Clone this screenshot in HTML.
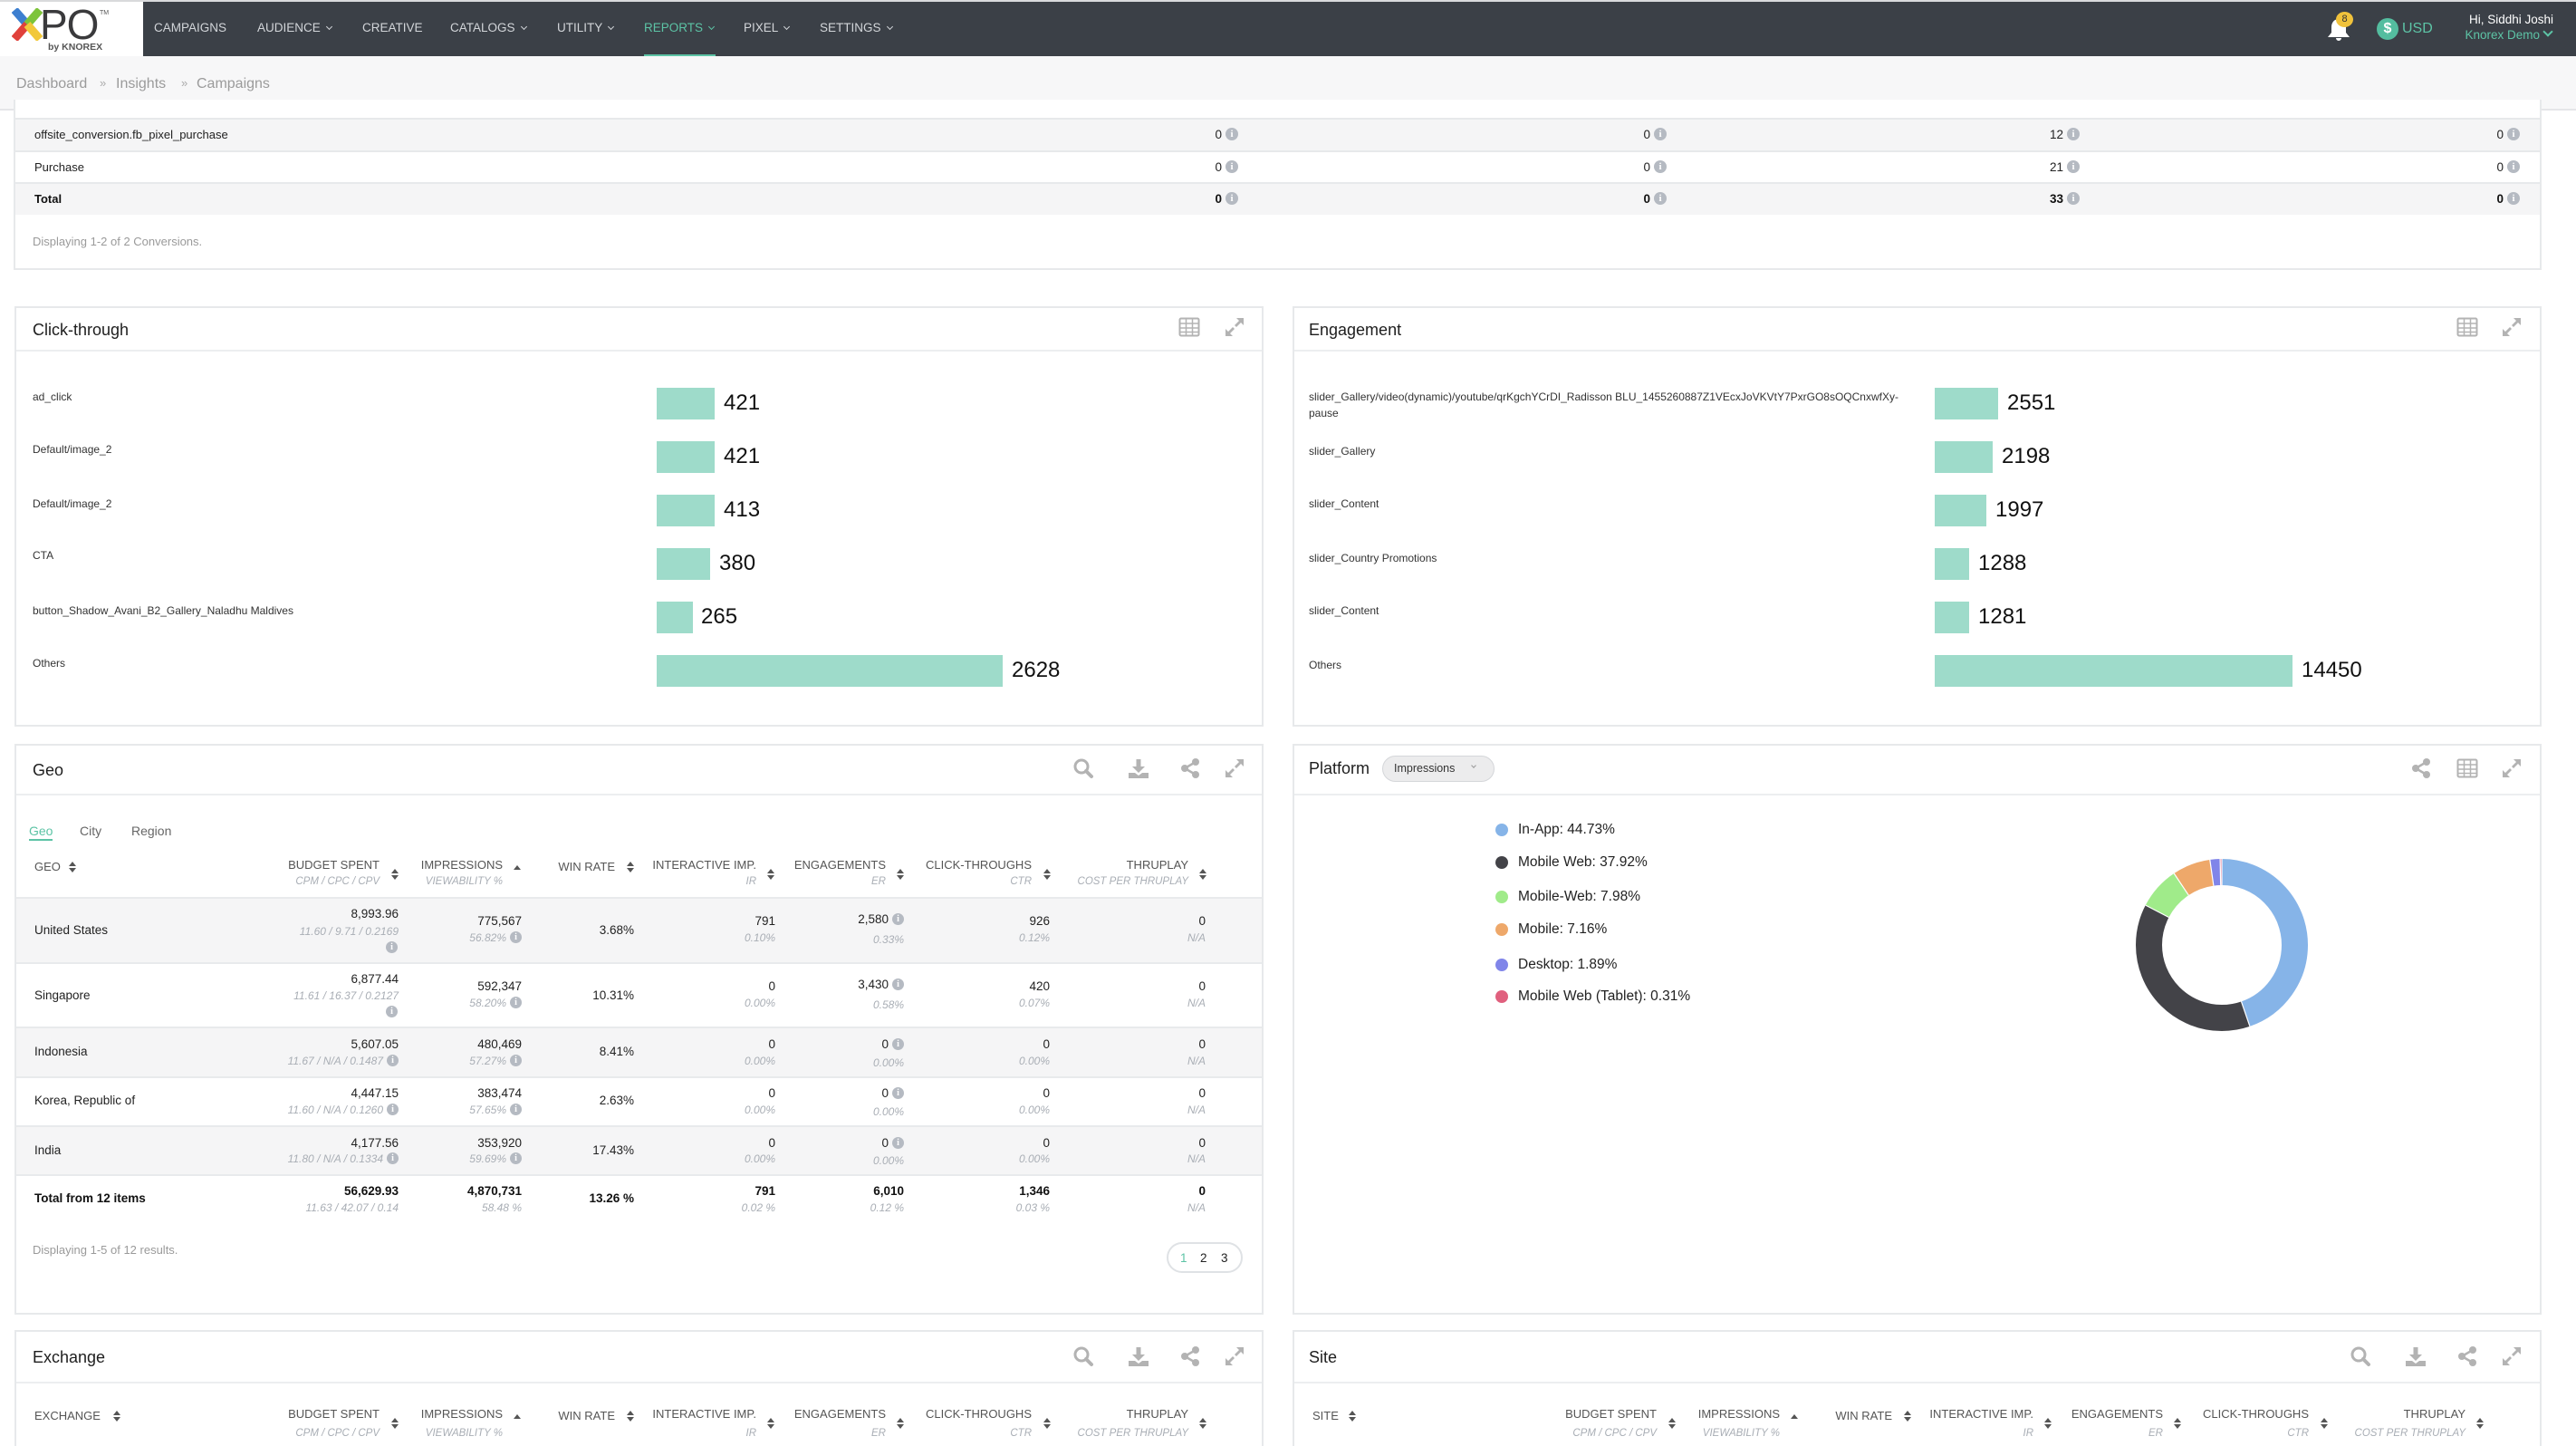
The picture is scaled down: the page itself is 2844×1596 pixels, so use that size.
<!DOCTYPE html>
<html><head><meta charset="utf-8">
<style>
html,body{margin:0;padding:0;width:2844px;height:1596px;overflow:hidden;background:#fff}
#p{position:relative;width:2844px;height:1596px;font-family:"Liberation Sans",Arial,sans-serif;color:#222;overflow:hidden}
.a{position:absolute;white-space:nowrap;line-height:20px;height:20px}
.b{position:absolute}
.nav{font-size:13.5px;color:#d2d5d9;top:21px}
.cv{display:inline-block;width:4px;height:4px;border-right:1.5px solid currentColor;border-bottom:1.5px solid currentColor;transform:rotate(45deg);margin-left:7px;position:relative;top:-3px}
.panel{position:absolute;border:2px solid #e7e9eb;box-sizing:border-box;background:#fff}
.hl{position:absolute;height:2px;background:#eceef0}
.ttl{font-size:18px;color:#1e1e1e}
.lbl{font-size:12px;color:#333}
.bar{position:absolute;background:#9edbca;height:35px}
.val{font-size:24px;color:#111;line-height:30px;height:30px}
.th{font-size:13px;color:#555}
.sub{font-size:11.5px;color:#a9aeb5;font-style:italic}
.td{font-size:13.5px;color:#222}
.tb{font-size:13.5px;color:#111;font-weight:bold}
.tds{font-size:12px;color:#a9aeb5;font-style:italic}
.i{display:inline-block;width:13px;height:13px;border-radius:50%;background:#b5bac2;color:#fff;font:bold 10px/13px "Liberation Serif",serif;text-align:center;vertical-align:middle;margin-left:4px;position:relative;top:-1px;font-style:normal}
.i2{display:inline-block;width:14px;height:14px;border-radius:50%;background:#b5bac2;color:#fff;font:bold 11px/14px "Liberation Serif",serif;text-align:center;vertical-align:middle;margin-left:4px;position:relative;top:-1px}
.row{position:absolute;left:18px;width:1375px;background:#f5f5f6}
.sep{position:absolute;left:18px;width:1375px;height:2px;background:#e8eaec}
.ic{position:absolute;width:24px;height:24px}
.ic *{fill:#b3b3b3;stroke:#b3b3b3}
.st{position:absolute;width:8px;height:12px}
.st path{fill:#555}
.dot{position:absolute;width:14px;height:14px;border-radius:50%}
.leg{font-size:15.5px;color:#222}
</style></head>
<body><div id="p">

<!-- top strip + navbar -->
<div class="b" style="left:0;top:0;width:2844px;height:2px;background:#d9dadc"></div>
<div class="b" style="left:0;top:2px;width:2844px;height:60px;background:#3b4047"></div>
<div class="b" style="left:0;top:2px;width:158px;height:60px;background:#fff"></div>
<svg class="b" style="left:13px;top:9px" width="34" height="36" viewBox="0 0 34 36">
  <path d="M3 2 L17 18" stroke="#3d7fd0" stroke-width="9" fill="none"/>
  <path d="M31 2 L17 18" stroke="#7dc43a" stroke-width="9" fill="none"/>
  <path d="M3 34 L17 18" stroke="#e0413b" stroke-width="9" fill="none"/>
  <path d="M31 34 L17 18" stroke="#f2c83a" stroke-width="9" fill="none"/>
</svg>
<div class="a" style="left:44px;top:2px;height:50px;line-height:50px;font-size:46px;color:#3a3a3c;letter-spacing:-1px">PO</div>
<div class="a" style="left:110px;top:5px;font-size:7px;color:#555">TM</div>
<div class="a" style="left:53px;top:42px;font-size:10.5px;font-weight:bold;color:#555">by KNOREX</div>

<div class="a nav" style="left:170px">CAMPAIGNS</div>
<div class="a nav" style="left:284px">AUDIENCE<i class="cv"></i></div>
<div class="a nav" style="left:400px">CREATIVE</div>
<div class="a nav" style="left:497px">CATALOGS<i class="cv"></i></div>
<div class="a nav" style="left:615px">UTILITY<i class="cv"></i></div>
<div class="a nav" style="left:711px;color:#5cc3a5">REPORTS<i class="cv"></i></div>
<div class="a nav" style="left:821px">PIXEL<i class="cv"></i></div>
<div class="a nav" style="left:905px">SETTINGS<i class="cv"></i></div>
<div class="b" style="left:711px;top:60px;width:79px;height:4px;background:#5cc3a5"></div>

<svg class="b" style="left:2568px;top:18px" width="28" height="28" viewBox="0 0 28 28">
  <path d="M14 3c-5 0-8 4-8 9v6l-4 5h24l-4-5v-6c0-5-3-9-8-9z M11 24a3 3 0 0 0 6 0z" fill="#fff"/>
</svg>
<div class="b" style="left:2579px;top:13px;width:19px;height:17px;border-radius:50%;background:#f0c23b;color:#333;font-size:11px;line-height:17px;text-align:center">8</div>
<div class="b" style="left:2624px;top:20px;width:24px;height:24px;border-radius:50%;background:#54bd9f;color:#fff;font-size:16px;font-weight:bold;line-height:24px;text-align:center">$</div>
<div class="a" style="left:2652px;top:22px;font-size:16px;color:#5dc4a6">USD</div>
<div class="a" style="right:25px;top:12px;font-size:13.5px;color:#fff">Hi, Siddhi Joshi</div>
<div class="a" style="right:40px;top:29px;font-size:13.5px;color:#5dc4a6">Knorex Demo</div>
<div class="b" style="left:2809px;top:31px;width:6px;height:6px;border-right:2.5px solid #5dc4a6;border-bottom:2.5px solid #5dc4a6;transform:rotate(45deg)"></div>

<!-- breadcrumb -->
<div class="b" style="left:0;top:62px;width:2844px;height:58px;background:#f7f7f8"></div>
<div class="b" style="left:0;top:120px;width:2844px;height:2px;background:#e5e6e8"></div>
<div class="a" style="left:18px;top:83px;font-size:16px;color:#9b9b9b">Dashboard</div>
<div class="a" style="left:110px;top:82px;font-size:13px;color:#aaa">»</div>
<div class="a" style="left:128px;top:83px;font-size:16px;color:#9b9b9b">Insights</div>
<div class="a" style="left:200px;top:82px;font-size:13px;color:#aaa">»</div>
<div class="a" style="left:217px;top:83px;font-size:16px;color:#9b9b9b">Campaigns</div>

<!-- conversions panel -->
<div class="panel" style="left:15px;top:110px;width:2791px;height:188px;border-top:none"></div>
<div class="b" style="left:17px;top:130px;width:2787px;height:2px;background:#e7e9eb"></div>
<div class="b" style="left:17px;top:132px;width:2787px;height:34px;background:#f5f5f6"></div>
<div class="b" style="left:17px;top:166px;width:2787px;height:2px;background:#e7e9eb"></div>
<div class="b" style="left:17px;top:201px;width:2787px;height:2px;background:#e7e9eb"></div>
<div class="b" style="left:17px;top:203px;width:2787px;height:34px;background:#f5f5f6"></div>
<div class="a td" style="left:38px;top:139px;font-size:13px">offsite_conversion.fb_pixel_purchase</div>
<div class="a td" style="left:38px;top:175px;font-size:13px">Purchase</div>
<div class="a tb" style="left:38px;top:210px;font-size:13px">Total</div>

<div class="a td" style="right:1477px;top:139px">0<span class="i2">i</span></div>
<div class="a td" style="right:1004px;top:139px">0<span class="i2">i</span></div>
<div class="a td" style="right:548px;top:139px">12<span class="i2">i</span></div>
<div class="a td" style="right:62px;top:139px">0<span class="i2">i</span></div>
<div class="a td" style="right:1477px;top:175px">0<span class="i2">i</span></div>
<div class="a td" style="right:1004px;top:175px">0<span class="i2">i</span></div>
<div class="a td" style="right:548px;top:175px">21<span class="i2">i</span></div>
<div class="a td" style="right:62px;top:175px">0<span class="i2">i</span></div>
<div class="a tb" style="right:1477px;top:210px">0<span class="i2">i</span></div>
<div class="a tb" style="right:1004px;top:210px">0<span class="i2">i</span></div>
<div class="a tb" style="right:548px;top:210px">33<span class="i2">i</span></div>
<div class="a tb" style="right:62px;top:210px">0<span class="i2">i</span></div>
<div class="a" style="left:36px;top:257px;font-size:13px;color:#9a9a9a">Displaying 1-2 of 2 Conversions.</div>

<!-- Click-through panel -->
<div class="panel" style="left:16px;top:338px;width:1379px;height:464px"></div>
<div class="hl" style="left:18px;top:386px;width:1375px"></div>
<div class="a ttl" style="left:36px;top:354px">Click-through</div>
<svg class="ic" style="left:1301px;top:349px" viewBox="0 0 24 24"><rect x="1.5" y="2.5" width="21" height="19" rx="1.5" fill="none" stroke-width="2" style="fill:none"/><path d="M1.5 8h21M1.5 13h21M1.5 17.5h21M8.5 3v18M15.5 3v18" stroke-width="1.5" style="fill:none"/></svg>
<svg class="ic" style="left:1351px;top:349px" viewBox="0 0 24 24"><path d="M14 2h8v8l-3-3-5 5-2-2 5-5z M10 22H2v-8l3 3 5-5 2 2-5 5z" style="stroke:none"/></svg>

<div class="a lbl" style="left:36px;top:428px">ad_click</div>
<div class="a lbl" style="left:36px;top:486px">Default/image_2</div>
<div class="a lbl" style="left:36px;top:546px">Default/image_2</div>
<div class="a lbl" style="left:36px;top:603px">CTA</div>
<div class="a lbl" style="left:36px;top:664px">button_Shadow_Avani_B2_Gallery_Naladhu Maldives</div>
<div class="a lbl" style="left:36px;top:722px">Others</div>
<div class="bar" style="left:725px;top:428px;width:64px"></div>
<div class="bar" style="left:725px;top:487px;width:64px"></div>
<div class="bar" style="left:725px;top:546px;width:64px"></div>
<div class="bar" style="left:725px;top:605px;width:59px"></div>
<div class="bar" style="left:725px;top:664px;width:40px"></div>
<div class="bar" style="left:725px;top:723px;width:382px"></div>
<div class="a val" style="left:799px;top:430px">421</div>
<div class="a val" style="left:799px;top:489px">421</div>
<div class="a val" style="left:799px;top:548px">413</div>
<div class="a val" style="left:794px;top:607px">380</div>
<div class="a val" style="left:774px;top:666px">265</div>
<div class="a val" style="left:1117px;top:725px">2628</div>

<!-- Engagement panel -->
<div class="panel" style="left:1427px;top:338px;width:1379px;height:464px"></div>
<div class="hl" style="left:1429px;top:386px;width:1375px"></div>
<div class="a ttl" style="left:1445px;top:354px">Engagement</div>
<svg class="ic" style="left:2712px;top:349px" viewBox="0 0 24 24"><rect x="1.5" y="2.5" width="21" height="19" rx="1.5" fill="none" stroke-width="2" style="fill:none"/><path d="M1.5 8h21M1.5 13h21M1.5 17.5h21M8.5 3v18M15.5 3v18" stroke-width="1.5" style="fill:none"/></svg>
<svg class="ic" style="left:2761px;top:349px" viewBox="0 0 24 24"><path d="M14 2h8v8l-3-3-5 5-2-2 5-5z M10 22H2v-8l3 3 5-5 2 2-5 5z" style="stroke:none"/></svg>

<div class="b lbl" style="left:1445px;top:429px;line-height:18px;white-space:nowrap">slider_Gallery/video(dynamic)/youtube/qrKgchYCrDI_Radisson BLU_1455260887Z1VEcxJoVKVtY7PxrGO8sOQCnxwfXy-<br>pause</div>
<div class="a lbl" style="left:1445px;top:488px">slider_Gallery</div>
<div class="a lbl" style="left:1445px;top:546px">slider_Content</div>
<div class="a lbl" style="left:1445px;top:606px">slider_Country Promotions</div>
<div class="a lbl" style="left:1445px;top:664px">slider_Content</div>
<div class="a lbl" style="left:1445px;top:724px">Others</div>
<div class="bar" style="left:2136px;top:428px;width:70px"></div>
<div class="bar" style="left:2136px;top:487px;width:64px"></div>
<div class="bar" style="left:2136px;top:546px;width:57px"></div>
<div class="bar" style="left:2136px;top:605px;width:38px"></div>
<div class="bar" style="left:2136px;top:664px;width:38px"></div>
<div class="bar" style="left:2136px;top:723px;width:395px"></div>
<div class="a val" style="left:2216px;top:430px">2551</div>
<div class="a val" style="left:2210px;top:489px">2198</div>
<div class="a val" style="left:2203px;top:548px">1997</div>
<div class="a val" style="left:2184px;top:607px">1288</div>
<div class="a val" style="left:2184px;top:666px">1281</div>
<div class="a val" style="left:2541px;top:725px">14450</div>

<!-- Geo panel -->
<div class="panel" style="left:16px;top:821px;width:1379px;height:630px"></div>
<div class="hl" style="left:18px;top:876px;width:1375px"></div>
<div class="a ttl" style="left:36px;top:840px">Geo</div>
<svg class="ic" style="left:1184px;top:836px" viewBox="0 0 24 24"><circle cx="10" cy="10" r="7" stroke-width="3" style="fill:none"/><path d="M15 15l6 6" stroke-width="4" stroke-linecap="round"/></svg>
<svg class="ic" style="left:1245px;top:836px" viewBox="0 0 24 24"><path d="M9.5 2h5v8h4.5l-7 7-7-7h4.5z M1 17h7l4 3 4-3h7v6H1z" style="stroke:none"/></svg>
<svg class="ic" style="left:1302px;top:836px" viewBox="0 0 24 24"><circle cx="18" cy="5" r="4" style="stroke:none"/><circle cx="6" cy="12" r="4" style="stroke:none"/><circle cx="18" cy="19" r="4" style="stroke:none"/><path d="M18 5L6 12L18 19" stroke-width="2.5" style="fill:none"/></svg>
<svg class="ic" style="left:1351px;top:836px" viewBox="0 0 24 24"><path d="M14 2h8v8l-3-3-5 5-2-2 5-5z M10 22H2v-8l3 3 5-5 2 2-5 5z" style="stroke:none"/></svg>

<div class="a" style="left:32px;top:907px;font-size:14px;color:#5cc3a5">Geo</div>
<div class="b" style="left:32px;top:926px;width:26px;height:2px;background:#5cc3a5"></div>
<div class="a" style="left:88px;top:907px;font-size:14px;color:#666">City</div>
<div class="a" style="left:145px;top:907px;font-size:14px;color:#666">Region</div>

<div class="a th" style="left:38px;top:947px">GEO</div>
<svg class="st" style="left:76px;top:951px" viewBox="0 0 8 12"><path d="M4 0L8 5H0z M0 7h8L4 12z"/></svg>
<div class="a th" style="right:2425px;top:945px">BUDGET SPENT</div>
<div class="a th" style="right:2289px;top:945px">IMPRESSIONS</div>
<div class="a th" style="right:2165px;top:947px">WIN RATE</div>
<div class="a th" style="right:2009px;top:945px">INTERACTIVE IMP.</div>
<div class="a th" style="right:1866px;top:945px">ENGAGEMENTS</div>
<div class="a th" style="right:1705px;top:945px">CLICK-THROUGHS</div>
<div class="a th" style="right:1532px;top:945px">THRUPLAY</div>
<div class="a sub" style="right:2425px;top:963px">CPM / CPC / CPV</div>
<div class="a sub" style="right:2289px;top:963px">VIEWABILITY %</div>
<div class="a sub" style="right:2009px;top:963px">IR</div>
<div class="a sub" style="right:1866px;top:963px">ER</div>
<div class="a sub" style="right:1705px;top:963px">CTR</div>
<div class="a sub" style="right:1532px;top:963px">COST PER THRUPLAY</div>
<svg class="st" style="left:432px;top:959px" viewBox="0 0 8 12"><path d="M4 0L8 5H0z M0 7h8L4 12z"/></svg>
<svg class="st" style="left:567px;top:955px" viewBox="0 0 8 12"><path d="M4 0L8 5H0z"/></svg>
<svg class="st" style="left:692px;top:951px" viewBox="0 0 8 12"><path d="M4 0L8 5H0z M0 7h8L4 12z"/></svg>
<svg class="st" style="left:847px;top:959px" viewBox="0 0 8 12"><path d="M4 0L8 5H0z M0 7h8L4 12z"/></svg>
<svg class="st" style="left:990px;top:959px" viewBox="0 0 8 12"><path d="M4 0L8 5H0z M0 7h8L4 12z"/></svg>
<svg class="st" style="left:1152px;top:959px" viewBox="0 0 8 12"><path d="M4 0L8 5H0z M0 7h8L4 12z"/></svg>
<svg class="st" style="left:1324px;top:959px" viewBox="0 0 8 12"><path d="M4 0L8 5H0z M0 7h8L4 12z"/></svg>

<div class="sep" style="top:990px"></div>
<div class="row" style="top:992px;height:70px"></div>
<div class="sep" style="top:1062px"></div>
<div class="sep" style="top:1133px"></div>
<div class="row" style="top:1135px;height:53px"></div>
<div class="sep" style="top:1188px"></div>
<div class="sep" style="top:1242px"></div>
<div class="row" style="top:1244px;height:52px"></div>
<div class="sep" style="top:1296px"></div>

<!-- row 1 -->
<div class="a td" style="left:38px;top:1017px">United States</div>
<div class="a td" style="right:2404px;top:999px">8,993.96</div>
<div class="a tds" style="right:2404px;top:1018px">11.60 / 9.71 / 0.2169</div>
<span class="i" style="position:absolute;left:422px;top:1039px">i</span>
<div class="a td" style="right:2268px;top:1007px">775,567</div>
<div class="a tds" style="right:2268px;top:1025px">56.82%<span class="i">i</span></div>
<div class="a td" style="right:2144px;top:1017px">3.68%</div>
<div class="a td" style="right:1988px;top:1007px">791</div>
<div class="a tds" style="right:1988px;top:1025px">0.10%</div>
<div class="a td" style="right:1846px;top:1005px">2,580<span class="i">i</span></div>
<div class="a tds" style="right:1846px;top:1027px">0.33%</div>
<div class="a td" style="right:1685px;top:1007px">926</div>
<div class="a tds" style="right:1685px;top:1025px">0.12%</div>
<div class="a td" style="right:1513px;top:1007px">0</div>
<div class="a tds" style="right:1513px;top:1025px">N/A</div>

<!-- row 2 -->
<div class="a td" style="left:38px;top:1089px">Singapore</div>
<div class="a td" style="right:2404px;top:1071px">6,877.44</div>
<div class="a tds" style="right:2404px;top:1089px">11.61 / 16.37 / 0.2127</div>
<span class="i" style="position:absolute;left:422px;top:1110px">i</span>
<div class="a td" style="right:2268px;top:1079px">592,347</div>
<div class="a tds" style="right:2268px;top:1097px">58.20%<span class="i">i</span></div>
<div class="a td" style="right:2144px;top:1089px">10.31%</div>
<div class="a td" style="right:1988px;top:1079px">0</div>
<div class="a tds" style="right:1988px;top:1097px">0.00%</div>
<div class="a td" style="right:1846px;top:1077px">3,430<span class="i">i</span></div>
<div class="a tds" style="right:1846px;top:1099px">0.58%</div>
<div class="a td" style="right:1685px;top:1079px">420</div>
<div class="a tds" style="right:1685px;top:1097px">0.07%</div>
<div class="a td" style="right:1513px;top:1079px">0</div>
<div class="a tds" style="right:1513px;top:1097px">N/A</div>

<!-- row 3 -->
<div class="a td" style="left:38px;top:1151px">Indonesia</div>
<div class="a td" style="right:2404px;top:1143px">5,607.05</div>
<div class="a tds" style="right:2404px;top:1161px">11.67 / N/A / 0.1487<span class="i">i</span></div>
<div class="a td" style="right:2268px;top:1143px">480,469</div>
<div class="a tds" style="right:2268px;top:1161px">57.27%<span class="i">i</span></div>
<div class="a td" style="right:2144px;top:1151px">8.41%</div>
<div class="a td" style="right:1988px;top:1143px">0</div>
<div class="a tds" style="right:1988px;top:1161px">0.00%</div>
<div class="a td" style="right:1846px;top:1143px">0<span class="i">i</span></div>
<div class="a tds" style="right:1846px;top:1163px">0.00%</div>
<div class="a td" style="right:1685px;top:1143px">0</div>
<div class="a tds" style="right:1685px;top:1161px">0.00%</div>
<div class="a td" style="right:1513px;top:1143px">0</div>
<div class="a tds" style="right:1513px;top:1161px">N/A</div>

<!-- row 4 -->
<div class="a td" style="left:38px;top:1205px">Korea, Republic of</div>
<div class="a td" style="right:2404px;top:1197px">4,447.15</div>
<div class="a tds" style="right:2404px;top:1215px">11.60 / N/A / 0.1260<span class="i">i</span></div>
<div class="a td" style="right:2268px;top:1197px">383,474</div>
<div class="a tds" style="right:2268px;top:1215px">57.65%<span class="i">i</span></div>
<div class="a td" style="right:2144px;top:1205px">2.63%</div>
<div class="a td" style="right:1988px;top:1197px">0</div>
<div class="a tds" style="right:1988px;top:1215px">0.00%</div>
<div class="a td" style="right:1846px;top:1197px">0<span class="i">i</span></div>
<div class="a tds" style="right:1846px;top:1217px">0.00%</div>
<div class="a td" style="right:1685px;top:1197px">0</div>
<div class="a tds" style="right:1685px;top:1215px">0.00%</div>
<div class="a td" style="right:1513px;top:1197px">0</div>
<div class="a tds" style="right:1513px;top:1215px">N/A</div>

<!-- row 5 -->
<div class="a td" style="left:38px;top:1260px">India</div>
<div class="a td" style="right:2404px;top:1252px">4,177.56</div>
<div class="a tds" style="right:2404px;top:1269px">11.80 / N/A / 0.1334<span class="i">i</span></div>
<div class="a td" style="right:2268px;top:1252px">353,920</div>
<div class="a tds" style="right:2268px;top:1269px">59.69%<span class="i">i</span></div>
<div class="a td" style="right:2144px;top:1260px">17.43%</div>
<div class="a td" style="right:1988px;top:1252px">0</div>
<div class="a tds" style="right:1988px;top:1269px">0.00%</div>
<div class="a td" style="right:1846px;top:1252px">0<span class="i">i</span></div>
<div class="a tds" style="right:1846px;top:1271px">0.00%</div>
<div class="a td" style="right:1685px;top:1252px">0</div>
<div class="a tds" style="right:1685px;top:1269px">0.00%</div>
<div class="a td" style="right:1513px;top:1252px">0</div>
<div class="a tds" style="right:1513px;top:1269px">N/A</div>

<!-- total -->
<div class="a tb" style="left:38px;top:1313px">Total from 12 items</div>
<div class="a tb" style="right:2404px;top:1305px">56,629.93</div>
<div class="a tds" style="right:2404px;top:1323px">11.63 / 42.07 / 0.14</div>
<div class="a tb" style="right:2268px;top:1305px">4,870,731</div>
<div class="a tds" style="right:2268px;top:1323px">58.48 %</div>
<div class="a tb" style="right:2144px;top:1313px">13.26 %</div>
<div class="a tb" style="right:1988px;top:1305px">791</div>
<div class="a tds" style="right:1988px;top:1323px">0.02 %</div>
<div class="a tb" style="right:1846px;top:1305px">6,010</div>
<div class="a tds" style="right:1846px;top:1323px">0.12 %</div>
<div class="a tb" style="right:1685px;top:1305px">1,346</div>
<div class="a tds" style="right:1685px;top:1323px">0.03 %</div>
<div class="a tb" style="right:1513px;top:1305px">0</div>
<div class="a tds" style="right:1513px;top:1323px">N/A</div>

<div class="a" style="left:36px;top:1370px;font-size:13px;color:#9a9a9a">Displaying 1-5 of 12 results.</div>
<div class="b" style="left:1288px;top:1371px;width:84px;height:34px;border:2px solid #dfe2e5;border-radius:17px;box-sizing:border-box"></div>
<div class="a td" style="left:1303px;top:1379px;color:#5cc3a5">1</div>
<div class="a td" style="left:1325px;top:1379px">2</div>
<div class="a td" style="left:1348px;top:1379px">3</div>

<!-- Platform panel -->
<div class="panel" style="left:1427px;top:821px;width:1379px;height:630px"></div>
<div class="hl" style="left:1429px;top:876px;width:1375px"></div>
<div class="a ttl" style="left:1445px;top:838px">Platform</div>
<div class="b" style="left:1526px;top:834px;width:124px;height:29px;border:1px solid #d5d7da;border-radius:15px;background:#ececed;box-sizing:border-box"></div>
<div class="a" style="left:1539px;top:838px;font-size:12.5px;color:#333">Impressions</div>
<div class="b" style="left:1625px;top:843px;width:3px;height:3px;border-right:1px solid #999;border-bottom:1px solid #999;transform:rotate(45deg)"></div>
<svg class="ic" style="left:2661px;top:836px" viewBox="0 0 24 24"><circle cx="18" cy="5" r="4" style="stroke:none"/><circle cx="6" cy="12" r="4" style="stroke:none"/><circle cx="18" cy="19" r="4" style="stroke:none"/><path d="M18 5L6 12L18 19" stroke-width="2.5" style="fill:none"/></svg>
<svg class="ic" style="left:2712px;top:836px" viewBox="0 0 24 24"><rect x="1.5" y="2.5" width="21" height="19" rx="1.5" fill="none" stroke-width="2" style="fill:none"/><path d="M1.5 8h21M1.5 13h21M1.5 17.5h21M8.5 3v18M15.5 3v18" stroke-width="1.5" style="fill:none"/></svg>
<svg class="ic" style="left:2761px;top:836px" viewBox="0 0 24 24"><path d="M14 2h8v8l-3-3-5 5-2-2 5-5z M10 22H2v-8l3 3 5-5 2 2-5 5z" style="stroke:none"/></svg>

<div class="dot" style="left:1651px;top:909px;background:#86b4e8"></div>
<div class="dot" style="left:1651px;top:945px;background:#434348"></div>
<div class="dot" style="left:1651px;top:983px;background:#a0eb8a"></div>
<div class="dot" style="left:1651px;top:1019px;background:#eea86a"></div>
<div class="dot" style="left:1651px;top:1058px;background:#8085e9"></div>
<div class="dot" style="left:1651px;top:1093px;background:#e0607e"></div>
<div class="a leg" style="left:1676px;top:906px">In-App: 44.73%</div>
<div class="a leg" style="left:1676px;top:942px">Mobile Web: 37.92%</div>
<div class="a leg" style="left:1676px;top:980px">Mobile-Web: 7.98%</div>
<div class="a leg" style="left:1676px;top:1016px">Mobile: 7.16%</div>
<div class="a leg" style="left:1676px;top:1055px">Desktop: 1.89%</div>
<div class="a leg" style="left:1676px;top:1090px">Mobile Web (Tablet): 0.31%</div>

<svg class="b" style="left:2343px;top:933px" width="220" height="220" viewBox="0 0 220 220">
  <g transform="rotate(-90 110 110)" fill="none" stroke-width="29">
    <circle cx="110" cy="110" r="80.5" stroke="#86b4e8" stroke-dasharray="226.24 600" stroke-dashoffset="0"/>
    <circle cx="110" cy="110" r="80.5" stroke="#434348" stroke-dasharray="191.80 600" stroke-dashoffset="-226.24"/>
    <circle cx="110" cy="110" r="80.5" stroke="#a0eb8a" stroke-dasharray="40.36 600" stroke-dashoffset="-418.04"/>
    <circle cx="110" cy="110" r="80.5" stroke="#eea86a" stroke-dasharray="36.22 600" stroke-dashoffset="-458.40"/>
    <circle cx="110" cy="110" r="80.5" stroke="#8085e9" stroke-dasharray="9.56 600" stroke-dashoffset="-494.62"/>
    <circle cx="110" cy="110" r="80.5" stroke="#e0607e" stroke-dasharray="1.60 600" stroke-dashoffset="-504.18"/>
  </g>
  <g stroke="#fff" stroke-width="1.2">
    <line x1="131.5" y1="172.4" x2="140.9" y2="199.8"/>
    <line x1="51.5" y1="79.5" x2="25.8" y2="66.1"/>
    <line x1="73.3" y1="55.1" x2="57.2" y2="31"/>
    <line x1="100.9" y1="44.6" x2="96.8" y2="15.9"/>
    <line x1="108.7" y1="44" x2="108.1" y2="15"/>
    <line x1="110" y1="44" x2="110" y2="15"/>
  </g>
</svg>

<!-- Exchange panel -->
<div class="panel" style="left:16px;top:1468px;width:1379px;height:200px"></div>
<div class="hl" style="left:18px;top:1525px;width:1375px"></div>
<div class="a ttl" style="left:36px;top:1488px">Exchange</div>
<svg class="ic" style="left:1184px;top:1485px" viewBox="0 0 24 24"><circle cx="10" cy="10" r="7" stroke-width="3" style="fill:none"/><path d="M15 15l6 6" stroke-width="4" stroke-linecap="round"/></svg>
<svg class="ic" style="left:1245px;top:1485px" viewBox="0 0 24 24"><path d="M9.5 2h5v8h4.5l-7 7-7-7h4.5z M1 17h7l4 3 4-3h7v6H1z" style="stroke:none"/></svg>
<svg class="ic" style="left:1302px;top:1485px" viewBox="0 0 24 24"><circle cx="18" cy="5" r="4" style="stroke:none"/><circle cx="6" cy="12" r="4" style="stroke:none"/><circle cx="18" cy="19" r="4" style="stroke:none"/><path d="M18 5L6 12L18 19" stroke-width="2.5" style="fill:none"/></svg>
<svg class="ic" style="left:1351px;top:1485px" viewBox="0 0 24 24"><path d="M14 2h8v8l-3-3-5 5-2-2 5-5z M10 22H2v-8l3 3 5-5 2 2-5 5z" style="stroke:none"/></svg>

<div class="a th" style="left:38px;top:1553px">EXCHANGE</div>
<svg class="st" style="left:125px;top:1557px" viewBox="0 0 8 12"><path d="M4 0L8 5H0z M0 7h8L4 12z"/></svg>
<div class="a th" style="right:2425px;top:1551px">BUDGET SPENT</div>
<div class="a th" style="right:2289px;top:1551px">IMPRESSIONS</div>
<div class="a th" style="right:2165px;top:1553px">WIN RATE</div>
<div class="a th" style="right:2009px;top:1551px">INTERACTIVE IMP.</div>
<div class="a th" style="right:1866px;top:1551px">ENGAGEMENTS</div>
<div class="a th" style="right:1705px;top:1551px">CLICK-THROUGHS</div>
<div class="a th" style="right:1532px;top:1551px">THRUPLAY</div>
<div class="a sub" style="right:2425px;top:1572px">CPM / CPC / CPV</div>
<div class="a sub" style="right:2289px;top:1572px">VIEWABILITY %</div>
<div class="a sub" style="right:2009px;top:1572px">IR</div>
<div class="a sub" style="right:1866px;top:1572px">ER</div>
<div class="a sub" style="right:1705px;top:1572px">CTR</div>
<div class="a sub" style="right:1532px;top:1572px">COST PER THRUPLAY</div>
<svg class="st" style="left:432px;top:1565px" viewBox="0 0 8 12"><path d="M4 0L8 5H0z M0 7h8L4 12z"/></svg>
<svg class="st" style="left:567px;top:1561px" viewBox="0 0 8 12"><path d="M4 0L8 5H0z"/></svg>
<svg class="st" style="left:692px;top:1557px" viewBox="0 0 8 12"><path d="M4 0L8 5H0z M0 7h8L4 12z"/></svg>
<svg class="st" style="left:847px;top:1565px" viewBox="0 0 8 12"><path d="M4 0L8 5H0z M0 7h8L4 12z"/></svg>
<svg class="st" style="left:990px;top:1565px" viewBox="0 0 8 12"><path d="M4 0L8 5H0z M0 7h8L4 12z"/></svg>
<svg class="st" style="left:1152px;top:1565px" viewBox="0 0 8 12"><path d="M4 0L8 5H0z M0 7h8L4 12z"/></svg>
<svg class="st" style="left:1324px;top:1565px" viewBox="0 0 8 12"><path d="M4 0L8 5H0z M0 7h8L4 12z"/></svg>

<!-- Site panel -->
<div class="panel" style="left:1427px;top:1468px;width:1379px;height:200px"></div>
<div class="hl" style="left:1429px;top:1525px;width:1375px"></div>
<div class="a ttl" style="left:1445px;top:1488px">Site</div>
<svg class="ic" style="left:2594px;top:1485px" viewBox="0 0 24 24"><circle cx="10" cy="10" r="7" stroke-width="3" style="fill:none"/><path d="M15 15l6 6" stroke-width="4" stroke-linecap="round"/></svg>
<svg class="ic" style="left:2655px;top:1485px" viewBox="0 0 24 24"><path d="M9.5 2h5v8h4.5l-7 7-7-7h4.5z M1 17h7l4 3 4-3h7v6H1z" style="stroke:none"/></svg>
<svg class="ic" style="left:2712px;top:1485px" viewBox="0 0 24 24"><circle cx="18" cy="5" r="4" style="stroke:none"/><circle cx="6" cy="12" r="4" style="stroke:none"/><circle cx="18" cy="19" r="4" style="stroke:none"/><path d="M18 5L6 12L18 19" stroke-width="2.5" style="fill:none"/></svg>
<svg class="ic" style="left:2761px;top:1485px" viewBox="0 0 24 24"><path d="M14 2h8v8l-3-3-5 5-2-2 5-5z M10 22H2v-8l3 3 5-5 2 2-5 5z" style="stroke:none"/></svg>

<div class="a th" style="left:1449px;top:1553px">SITE</div>
<svg class="st" style="left:1489px;top:1557px" viewBox="0 0 8 12"><path d="M4 0L8 5H0z M0 7h8L4 12z"/></svg>
<div class="a th" style="right:1015px;top:1551px">BUDGET SPENT</div>
<div class="a th" style="right:879px;top:1551px">IMPRESSIONS</div>
<div class="a th" style="right:755px;top:1553px">WIN RATE</div>
<div class="a th" style="right:599px;top:1551px">INTERACTIVE IMP.</div>
<div class="a th" style="right:456px;top:1551px">ENGAGEMENTS</div>
<div class="a th" style="right:295px;top:1551px">CLICK-THROUGHS</div>
<div class="a th" style="right:122px;top:1551px">THRUPLAY</div>
<div class="a sub" style="right:1015px;top:1572px">CPM / CPC / CPV</div>
<div class="a sub" style="right:879px;top:1572px">VIEWABILITY %</div>
<div class="a sub" style="right:599px;top:1572px">IR</div>
<div class="a sub" style="right:456px;top:1572px">ER</div>
<div class="a sub" style="right:295px;top:1572px">CTR</div>
<div class="a sub" style="right:122px;top:1572px">COST PER THRUPLAY</div>
<svg class="st" style="left:1842px;top:1565px" viewBox="0 0 8 12"><path d="M4 0L8 5H0z M0 7h8L4 12z"/></svg>
<svg class="st" style="left:1977px;top:1561px" viewBox="0 0 8 12"><path d="M4 0L8 5H0z"/></svg>
<svg class="st" style="left:2102px;top:1557px" viewBox="0 0 8 12"><path d="M4 0L8 5H0z M0 7h8L4 12z"/></svg>
<svg class="st" style="left:2257px;top:1565px" viewBox="0 0 8 12"><path d="M4 0L8 5H0z M0 7h8L4 12z"/></svg>
<svg class="st" style="left:2400px;top:1565px" viewBox="0 0 8 12"><path d="M4 0L8 5H0z M0 7h8L4 12z"/></svg>
<svg class="st" style="left:2562px;top:1565px" viewBox="0 0 8 12"><path d="M4 0L8 5H0z M0 7h8L4 12z"/></svg>
<svg class="st" style="left:2734px;top:1565px" viewBox="0 0 8 12"><path d="M4 0L8 5H0z M0 7h8L4 12z"/></svg>

</div></body></html>
